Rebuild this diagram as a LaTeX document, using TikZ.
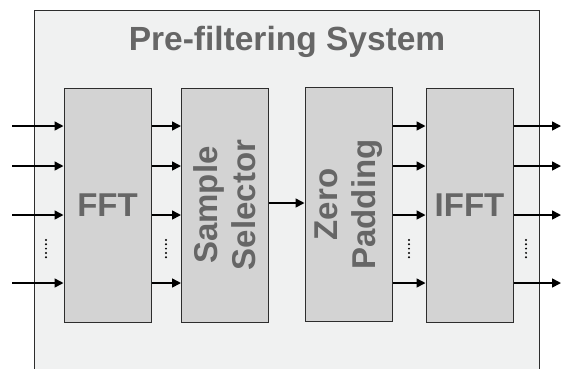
\documentclass[tikz,border=0pt]{standalone}
\usepackage{fontspec}
\setmainfont{Liberation Sans}
\usetikzlibrary{arrows.meta,positioning,calc}
\definecolor{panelgray}{RGB}{240,241,241}
\definecolor{blockgray}{RGB}{211,211,211}
\definecolor{labelgray}{RGB}{102,102,102}
\definecolor{edgegray}{RGB}{45,45,45}
\tikzset{
    % processing blocks
    block/.style={
        rectangle, draw=edgegray, fill=blockgray,
        minimum width=87pt, minimum height=234pt, inner sep=0pt,
        line width=1pt
    },
    blocklabel/.style={
        font=\fontsize{33}{38}\selectfont\bfseries, text=labelgray,
        align=center, inner sep=0pt
    },
    % signal lines
    sig/.style={line width=1.6pt, -{Triangle[length=9pt,width=9pt]}},
    moredots/.style={line width=2.2pt, line cap=round,
        dash pattern=on 0pt off 4.3pt},
}
\begin{document}
\begin{tikzpicture}[x=1pt,y=-1pt]
      \useasboundingbox (0,0) rectangle (561,368);
      % outer system panel (runs off the bottom)
      \fill[panelgray] (34,10) rectangle (539,375);
      \draw[edgegray,line width=1pt] (34,375) -- (34,10) -- (539,10) -- (539,375);
      \node[font=\fontsize{33.5}{38}\selectfont\bfseries, text=labelgray] (title) at (287,42) {Pre-filtering System};
      % the four stages
      \node[block] (fft)  at (107.5,205) {};
      \node[block] (ss)   at (225,205)   {};
      \node[block] (zp)   at (348.5,204.5) {};
      \node[block] (ifft) at (469.5,205) {};
      \node[blocklabel] (fftl) at (fft) {FFT};
      \node[blocklabel,rotate=90] (ssl) at (ss) {Sample\\Selector};
      \node[blocklabel,rotate=90] (zpl) at (zp) {Zero\\Padding};
      \node[blocklabel] (ifftl) at (ifft) {IFFT};
      % input and output ends
      \foreach \i/\y in {1/126,2/166,3/215,4/283}{
        \coordinate (in\i) at (12,\y);
        \coordinate (out\i) at (561,\y);
        \draw[sig] (in\i) -- (fft.west |- in\i);
        \draw[sig] (fft.east |- in\i) -- (ss.west |- in\i);
        \draw[sig] (zp.east |- in\i) -- (ifft.west |- in\i);
        \draw[sig] (ifft.east |- in\i) -- (out\i);
      }
      \draw[sig] (ss.east |- 0,203) -- (zp.west |- 0,203);
      % vertical dots between the 3rd and 4th lines
      \foreach \x in {46,166,409,526}{
        \draw[moredots] (\x,240) -- (\x,258);
      }
\end{tikzpicture}
\end{document}
